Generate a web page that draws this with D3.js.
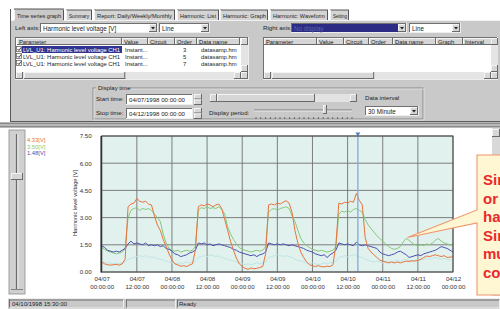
<!DOCTYPE html>
<html><head><meta charset="utf-8">
<script src="https://cdn.jsdelivr.net/npm/d3@7"></script>
<style>
html,body{margin:0;padding:0;background:#fff;overflow:hidden;}
svg{display:block;font-family:"Liberation Sans",Arial,sans-serif;}
</style></head><body>
<svg id="c" width="500" height="309"></svg>
<script>
// ---------- DATA ----------
const startTime = new Date(1998, 3, 7, 0, 0, 0);
const endTime = new Date(1998, 3, 12, 0, 0, 0);
const cursorTime = new Date(1998, 3, 10, 15, 30, 0);
const yTicks = [0, 1.5, 3.0, 4.5, 6.0, 7.5];
const seriesNames = ["3rd", "5th", "7th"];
const legendValues = ["4.33[V]", "3.50[V]", "1.48[V]"];
// hourly samples, 04/07 00:00 .. 04/12 00:00
const order3 = [0.55,0.45,0.4,0.38,0.4,0.42,0.38,0.45,0.7,
 3.6,3.75,3.8,4.05,3.9,3.85,3.9,3.75,3.7,3.1,2.6,2.3,
 1.8,1.4,1.0,0.66,0.45,0.39,0.32,0.35,0.3,0.38,0.45,1.2,
 3.6,3.7,3.65,3.75,3.7,3.6,3.7,3.75,3.5,2.9,2.3,1.7,
 1.2,0.77,0.45,0.3,0.2,0.15,0.22,0.18,0.2,0.25,0.3,1.0,
 3.7,3.75,3.7,3.8,3.75,3.85,3.93,3.8,3.3,2.3,1.6,1.1,
 0.8,0.55,0.4,0.35,0.3,0.35,0.3,0.28,0.32,0.3,0.4,1.5,
 3.8,3.75,3.85,3.8,3.9,3.85,4.33,3.95,3.7,1.9,1.3,1.1,
 0.95,0.8,0.65,0.6,0.55,0.5,0.55,0.5,0.55,0.5,0.55,0.6,
 0.58,0.62,0.6,0.65,0.7,0.8,0.88,0.85,0.9,0.95,0.9,0.85,0.9,0.8,0.82,0.84];
const order5 = [1.35,1.25,1.15,1.1,1.05,1.0,1.05,1.1,1.3,
 3.0,3.4,3.5,3.55,3.4,3.5,3.45,3.5,3.4,3.2,3.0,2.8,
 2.1,1.6,1.3,1.2,1.15,1.2,1.1,1.15,1.2,1.15,1.2,1.4,
 3.4,3.55,3.5,3.6,3.5,3.55,3.5,3.6,3.45,3.2,2.5,2.1,
 1.8,1.55,1.35,1.25,1.2,1.15,1.1,1.15,1.2,1.15,1.2,1.4,
 3.3,3.45,3.5,3.4,3.5,3.55,3.6,3.5,3.1,2.8,2.3,1.85,
 1.6,1.45,1.35,1.25,1.2,1.15,1.2,1.15,1.1,1.15,1.2,1.4,
 3.2,3.35,3.3,3.4,3.3,3.45,3.5,3.4,3.3,2.9,2.6,2.4,
 2.2,2.0,1.85,1.7,1.55,1.4,1.3,1.25,1.3,1.4,1.65,1.85,
 1.75,1.6,1.5,1.45,1.5,1.45,1.55,1.5,1.6,1.75,1.85,1.7,1.6,1.55,1.5,1.45];
const order7 = [1.45,1.35,1.2,1.15,1.1,1.15,1.1,1.2,1.3,
 1.55,1.7,1.55,1.6,1.55,1.5,1.6,1.45,1.5,1.45,1.5,1.4,
 1.45,1.3,1.25,1.15,1.0,0.95,0.85,0.9,0.95,1.05,1.1,1.2,
 1.6,1.55,1.6,1.5,1.55,1.45,1.5,1.55,1.5,1.45,1.4,1.35,
 1.25,1.2,1.1,1.05,1.0,0.95,0.9,0.95,0.85,0.95,1.0,1.1,
 1.6,1.55,1.5,1.55,1.5,1.55,1.5,1.45,1.5,1.45,1.4,1.35,
 1.3,1.2,1.15,1.1,1.0,0.95,0.9,0.95,0.8,0.95,1.05,1.2,
 1.6,1.55,1.5,1.55,1.5,1.45,1.65,1.5,1.45,1.5,1.45,1.4,
 1.35,1.3,1.1,1.0,0.95,0.9,0.95,1.0,1.1,1.15,1.05,0.95,
 0.8,0.85,0.9,0.95,0.9,1.0,1.05,1.1,1.15,1.2,1.3,1.4,1.35,1.3,1.2,1.1];
const faint = [0.6,0.55,0.5,0.5,0.45,0.5,0.45,0.5,0.55,
 0.7,0.75,0.8,0.85,0.9,0.85,0.9,0.8,0.85,0.8,0.75,0.7,
 0.65,0.6,0.55,0.5,0.45,0.5,0.45,0.5,0.55,0.5,0.55,0.6,
 0.8,0.85,0.9,0.85,0.95,0.9,0.85,0.9,0.8,0.75,0.7,0.65,
 0.6,0.55,0.5,0.45,0.4,0.45,0.4,0.45,0.5,0.45,0.5,0.55,
 0.8,0.85,0.9,0.95,0.9,0.85,0.9,0.85,0.8,0.7,0.65,0.6,
 0.55,0.5,0.45,0.5,0.45,0.4,0.45,0.5,0.45,0.5,0.55,0.6,
 0.8,0.85,0.9,0.85,0.9,0.95,0.9,0.85,0.8,0.7,0.65,0.6,
 0.55,0.6,0.55,0.5,0.55,0.6,0.55,0.6,0.65,0.6,0.65,0.7,
 0.65,0.6,0.65,0.7,0.65,0.7,0.75,0.7,0.75,0.8,0.75,0.7,0.75,0.7,0.65,0.7];
const tableRows = [["LVL_U1: Harmonic level voltage CH1","Instant...","3","datasamp.hm"],
 ["LVL_U1: Harmonic level voltage CH1","Instant...","5","datasamp.hm"],
 ["LVL_U1: Harmonic level voltage CH1","Instant...","7","datasamp.hm"]];
const tabs = ["Time series graph","Summary","Report: Daily/Weekly/Monthly","Harmonic: List","Harmonic: Graph","Harmonic: Waveform","Setting"];
const calloutLines = ["Sin","or","ha","Sin","mu","co"];

// ---------- HELPERS ----------
const svg = d3.select("#c");
const GRAY = "#c9c9c9";
function rect(g,x,y,w,h,fill,stroke,sw){return g.append("rect").attr("x",x).attr("y",y).attr("width",w).attr("height",h).attr("fill",fill||"none").attr("stroke",stroke||"none").attr("stroke-width",sw||1);}
function line(g,x1,y1,x2,y2,c,w){return g.append("line").attr("x1",x1).attr("y1",y1).attr("x2",x2).attr("y2",y2).attr("stroke",c).attr("stroke-width",w||1);}
function text(g,x,y,s,size,fill,anchor){return g.append("text").attr("x",x).attr("y",y).attr("font-size",size||6.3).attr("fill",fill||"#222").attr("text-anchor",anchor||"start").text(s);}
function raised(g,x,y,w,h){rect(g,x,y,w,h,"#d6d6d6");line(g,x,y+0.5,x+w,y+0.5,"#f4f4f4");line(g,x+0.5,y,x+0.5,y+h,"#f4f4f4");line(g,x,y+h-0.5,x+w,y+h-0.5,"#6a6a6a");line(g,x+w-0.5,y,x+w-0.5,y+h,"#6a6a6a");}
function sunken(g,x,y,w,h,fill){rect(g,x,y,w,h,fill||"#fff");line(g,x,y+0.5,x+w,y+0.5,"#707070");line(g,x+0.5,y,x+0.5,y+h,"#707070");line(g,x,y+h-0.5,x+w,y+h-0.5,"#eeeeee");line(g,x+w-0.5,y,x+w-0.5,y+h,"#eeeeee");}
function arrowDown(g,cx,cy){g.append("path").attr("d",`M${cx-2},${cy-1}L${cx+2},${cy-1}L${cx},${cy+1.5}Z`).attr("fill","#222");}
function combo(g,x,y,w,h,label,fill,tcol){sunken(g,x,y,w,h,fill);raised(g,x+w-9,y+1,8,h-2);arrowDown(g,x+w-5,y+h/2);text(g,x+3,y+h-2.5,label,6.3,tcol||"#222");}
function scrollH(g,x,y,w){rect(g,x,y,w,7,"#e4e4e4");raised(g,x,y,7,7);raised(g,x+w-7,y,7,7);raised(g,x+8,y,w*0.45,7);}

// ---------- TOP PANEL ----------
const topG = svg.append("g");
rect(topG,10,20,490,102,GRAY);
// tabs
const tabX=[14,66,94,177,220,270,330];
const tabW=[50,26,81,42,48,58,19];
const tabTL=[44,20,75,36,43,52,14];
tabs.forEach((t,i)=>{
  const tx=tabX[i], w=tabW[i];
  rect(topG,tx,i===0?9:10,w,i===0?12:10,i===0?GRAY:"#d4d4d4");
  line(topG,tx,i===0?9:10,tx+w,i===0?9:10,"#555");
  line(topG,tx+0.5,10,tx+0.5,20,"#f2f2f2");
  line(topG,tx+w-0.5,10,tx+w-0.5,20,"#555");
  text(topG,tx+3,17.5,t,5.8,"#222").attr("textLength",tabTL[i]).attr("lengthAdjust","spacingAndGlyphs");
});
line(topG,10,20.5,14,20.5,"#f2f2f2");line(topG,64,20.5,500,20.5,"#f2f2f2");
line(topG,10.5,9,10.5,122,"#5a5a5a");
line(topG,10,121.5,500,121.5,"#5a5a5a");
// axis combos
text(topG,15,30,"Left axis:",6.2);
combo(topG,40,23,118,10,"Harmonic level voltage [V]");
combo(topG,159,23,51,10,"Line");
text(topG,263,30,"Right axis:",6.2);
combo(topG,291,23,116,10,"No display","#2c2c84","#5a63b0");
combo(topG,409,23,52,10,"Line");
// left table
sunken(topG,15,37,234,43,"#fff");
const lcols=[[17,"Parameter",105],[122,"Value",26],[148,"Circuit",27],[175,"Order",22],[197,"Data name",43]];
lcols.forEach(c=>{raised(topG,c[0],38,c[2],7);text(topG,c[0]+2,43.6,c[1],5.8);});
raised(topG,241,38,7,7);
tableRows.forEach((r,i)=>{
  const y=46+i*7;
  rect(topG,16.5,y+0.5,5,5,"#fff","#555",0.7);
  topG.append("path").attr("d",`M17.5,${y+3}L19,${y+4.5}L21,${y+1.5}`).attr("fill","none").attr("stroke","#111").attr("stroke-width",0.8);
  if(i===0) rect(topG,22,y,100,7,"#2f338f");
  text(topG,23,y+5.6,r[0],5.9,i===0?"#fff":"#222");
  text(topG,125,y+5.6,r[1],5.9);
  text(topG,183,y+5.6,r[2],5.9);
  text(topG,201,y+5.6,r[3],5.9);
});
rect(topG,241,45,7,27,"#e4e4e4");raised(topG,241,65,7,7);
scrollH(topG,16,72,225);raised(topG,241,72,7,7);
// right table
sunken(topG,263,37,235,43,"#fff");
const rcols=[[264,"Parameter",53],[317,"Value",27],[344,"Circuit",25],[369,"Order",24],[393,"Data name",43],[436,"Graph",27],[463,"Interval",31]];
rcols.forEach(c=>{raised(topG,c[0],38,c[2],7);text(topG,c[0]+2,43.6,c[1],5.8);});
rect(topG,491,45,7,27,"#e4e4e4");raised(topG,491,38,7,7);raised(topG,491,65,7,7);
scrollH(topG,264,72,227);raised(topG,491,72,7,7);
// display time group
topG.append("rect").attr("x",93).attr("y",88).attr("width",330).attr("height",31).attr("fill","none").attr("stroke","#8a8a8a");
topG.append("rect").attr("x",94).attr("y",89).attr("width",330).attr("height",31).attr("fill","none").attr("stroke","#efefef").attr("stroke-width",0.6);
rect(topG,96,84,34,7,GRAY);
text(topG,98,90,"Display time",6);
text(topG,96,101,"Start time:",6.1);
sunken(topG,126,94,67,11);text(topG,129,102,"04/07/1998  00:00:00",6.1);
raised(topG,194,94,8,5.5);raised(topG,194,99.5,8,5.5);
text(topG,96,115,"Stop time:",6.1);
sunken(topG,126,108,67,11);text(topG,129,116,"04/12/1998  00:00:00",6.1);
raised(topG,194,108,8,5.5);raised(topG,194,113.5,8,5.5);
raised(topG,210,94,7,8);
rect(topG,217,94,133,8,"#e2e2e2");raised(topG,217,94,98,8);
raised(topG,350,94,7,8);
text(topG,209,115,"Display period:",6.1);
line(topG,254,110,352,110,"#666",0.8);line(topG,254,111,352,111,"#f2f2f2",0.8);
raised(topG,323,105,4,9);
for(let i=0;i<21;i++){line(topG,256+i*4.8,117,256+i*4.8,119,"#444",0.7);}
text(topG,365,100,"Data interval",6.1);
combo(topG,365,106,54,10,"30 Minute");
// splitter
rect(svg,0,122,500,6,"#b8b8b8");
line(svg,0,123.5,500,123.5,"#8a8a8a");line(svg,0,126.5,500,126.5,"#8a8a8a");

// ---------- CHART PANEL ----------
rect(svg,8,128,492,170,"#fff");
// left vertical slider
rect(svg,9,130,16,164,"#d0d0d0","#8c8c8c",0.8);
line(svg,16.5,134,16.5,289,"#6c6c6c",1.2);line(svg,18,134,18,289,"#f4f4f4",0.8);
raised(svg,11,173,12,7);
line(svg,11,289.5,23,289.5,"#6c6c6c",0.8);
// right scrollbar
rect(svg,492,128,8,168,"#d8d8d8");raised(svg,492,129,8,8);

// legend values
const colors=["#e8733c","#86c97a","#4b4fae"];
legendValues.forEach((v,i)=>text(svg,27,142+i*6.5,v,5.8,colors[i]));

// plot
const x = d3.scaleTime().domain([startTime,endTime]).range([101.7,453]);
const y = d3.scaleLinear().domain([0,7.5]).range([272,136]);
const plot = svg.append("g");
rect(plot,101.7,136,351.3,136,"#e1f1ee");
const gridTimes = d3.timeHour.every(12).range(startTime,d3.timeHour.offset(endTime,1));
plot.selectAll(".gx").data(gridTimes).join("line").attr("x1",d=>x(d)).attr("x2",d=>x(d)).attr("y1",136).attr("y2",272).attr("stroke","#727272").attr("stroke-width",0.9);
plot.selectAll(".gy").data(yTicks).join("line").attr("x1",101.7).attr("x2",453).attr("y1",d=>y(d)).attr("y2",d=>y(d)).attr("stroke","#727272").attr("stroke-width",0.9);

const times = order3.map((_,i)=>d3.timeHour.offset(startTime,i));
const lineGen = arr => d3.line().x((d,i)=>x(times[i])).y(d=>y(d))(arr);
plot.append("path").attr("d",lineGen(faint)).attr("fill","none").attr("stroke","#bfe6e6").attr("stroke-width",1);
plot.append("path").attr("d",lineGen(order5)).attr("fill","none").attr("stroke",colors[1]).attr("stroke-width",1);
plot.append("path").attr("d",lineGen(order7)).attr("fill","none").attr("stroke",colors[2]).attr("stroke-width",1);
plot.append("path").attr("d",lineGen(order3)).attr("fill","none").attr("stroke",colors[0]).attr("stroke-width",1);
// cursor
const cx = x(cursorTime);
line(plot,cx,133,cx,272,"#86a9da",1.3);
plot.append("path").attr("d",`M${cx-2.5},132.5L${cx+2.5},132.5L${cx},136Z`).attr("fill","#4c79c2");
// border
rect(plot,101.7,136,351.3,136,"none","#4a4a4a",1);
line(plot,101.2,136,101.2,272.5,"#333",1.6);

// axes
const yAxis = d3.axisLeft(y).tickValues(yTicks).tickSize(0).tickPadding(10).tickFormat(d3.format(".2f"));
const ya = svg.append("g").attr("transform","translate(101.7,0)").call(yAxis);
ya.select(".domain").remove();
ya.selectAll("text").attr("font-size",6.2).attr("fill","#333").attr("font-family","Liberation Sans, Arial, sans-serif");
const xAxis = d3.axisBottom(x).tickValues(gridTimes).tickSize(0).tickPadding(0).tickFormat(d3.timeFormat("%m/%d|%H:%M:%S"));
const xa = svg.append("g").attr("transform","translate(0,272)").call(xAxis);
xa.select(".domain").remove();
xa.selectAll("text").each(function(d){
  const parts = d3.timeFormat("%m/%d|%H:%M:%S")(d).split("|");
  const t=d3.select(this).text(null).attr("font-size",6.1).attr("fill","#333").attr("font-family","Liberation Sans, Arial, sans-serif").attr("y",0).attr("dy",null);
  t.append("tspan").attr("x",0).attr("y",8.5).text(parts[0]);
  t.append("tspan").attr("x",0).attr("y",16.5).text(parts[1]);
});
svg.append("text").attr("transform","translate(77,203) rotate(-90)").attr("text-anchor","middle").attr("font-size",5.7).attr("fill","#333").text("Harmonic level voltage [V]");

// status bar
rect(svg,8,298,492,11,GRAY);
line(svg,8,298.5,500,298.5,"#eeeeee");
sunken(svg,9,299.5,115,9,GRAY);
sunken(svg,126,299.5,50,9,GRAY);
sunken(svg,177,299.5,323,9,GRAY);
text(svg,12,306.3,"04/10/1998 15:30:00",6);
text(svg,179,306.3,"Ready",6);

// callout (cut off by the right edge, as in the reference)
svg.append("path").attr("d","M506,155L477,155L477,210L407.5,237.5L477,223L477,295L506,295")
  .attr("fill","#fff6d4").attr("stroke","#f0956a").attr("stroke-width",1.1);
calloutLines.forEach((s,i)=>{
  svg.append("text").attr("x",483).attr("y",185+i*18.6).attr("font-size",15).attr("font-weight","bold").attr("fill","#ea2a2a").text(s);
});
</script>
</body></html>
